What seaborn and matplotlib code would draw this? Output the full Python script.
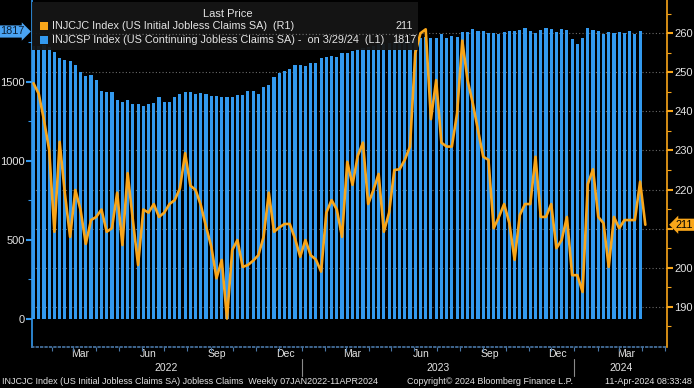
import matplotlib
matplotlib.use('Agg')
import matplotlib.pyplot as plt
import matplotlib.dates as mdates
import matplotlib.transforms as mtransforms
from matplotlib.patches import Rectangle
from matplotlib.lines import Line2D
import pandas as pd
import seaborn as sns

# weekly dates (Bloomberg uses Friday stamps)
cont_dates = pd.date_range('2022-01-07', '2024-03-29', freq='W-FRI')
init_dates = pd.date_range('2022-01-07', '2024-04-05', freq='W-FRI')

# INJCSP - continuing claims (thousands), left axis
continuing = [1725, 1725, 1730, 1720, 1690, 1650, 1635, 1628, 1603, 1561,
              1536, 1544, 1508, 1438, 1434, 1434, 1387, 1374, 1385, 1357,
              1361, 1349, 1357, 1366, 1402, 1370, 1374, 1400, 1423, 1434,
              1434, 1421, 1430, 1423, 1408, 1408, 1400, 1404, 1404, 1417,
              1417, 1442, 1442, 1421, 1466, 1481, 1527, 1557, 1570, 1582,
              1607, 1603, 1599, 1620, 1616, 1650, 1656, 1661, 1656, 1682,
              1682, 1696, 1709, 1713, 1720, 1728, 1735, 1740, 1745, 1750,
              1755, 1760, 1765, 1770, 1775, 1780,
              1779, 1779, 1798, 1776, 1790, 1785, 1815, 1811, 1832, 1819,
              1821, 1806, 1806, 1802, 1811, 1821, 1821, 1828, 1836, 1821,
              1808, 1828, 1836, 1832, 1815, 1832, 1828, 1772, 1741, 1777,
              1840, 1825, 1819, 1802, 1815, 1806, 1815, 1806, 1821, 1802,
              1817]

# INJCJC - initial claims (thousands), right axis
initial = [247.2, 244.5, 237.8, 230.1, 209.2, 232.2, 219.0, 207.9, 219.9, 214.8,
           206.1, 212.2, 213.0, 214.9, 209.2, 210.1, 219.2, 205.8, 224.2, 212.2,
           200.7, 214.9, 214.1, 216.3, 213.0, 214.1, 216.3, 217.3, 220.3, 229.3,
           221.0,
           219.9, 216.0, 210.5, 205.4, 197.3, 202.0, 187.0, 204.5, 207.1, 200.2,
           200.7, 201.8, 203.2, 207.9, 219.2, 209.2, 210.3, 211.2, 211.2, 207.5,
           202.8, 207.1, 203.2, 202.1, 199.0, 214.1, 217.3, 214.9, 207.9,
           227.1, 221.2, 228.6, 232.0, 216.3, 219.9, 224.0, 209.2, 214.1, 225.0,
           225.2, 227.6, 231.0, 254.9, 260.0, 261.0, 238.0, 248.0, 232.0, 231.0,
           231.0, 239.5, 258.1, 248.0, 242.1, 235.2, 228.4, 227.6, 210.1,
           213.0, 216.3, 211.4, 202.0, 213.5, 216.3, 216.3, 228.4, 213.0, 213.0,
           216.3, 205.0, 207.1, 213.0, 198.1, 198.1, 193.8, 221.4, 225.2, 213.0,
           211.4, 200.2, 213.0, 210.1, 212.2, 212.2, 212.2, 222.0, 211.0]

left_ticks = [0, 500, 1000, 1500]
left_minor = [250, 750, 1250, 1750]
right_ticks = [190, 200, 210, 220, 230, 240, 250, 260]
right_tick_labels = ['190', '200', '', '220', '230', '240', '250', '260']  # 210 hidden by last-value tag
right_minor = [185, 195, 205, 215, 225, 235, 245, 255, 265]

month_label_dates = ['2022-03-10', '2022-06-10', '2022-09-10', '2022-12-10',
                     '2023-03-10', '2023-06-10', '2023-09-10', '2023-12-10',
                     '2024-03-10']
month_labels = ['Mar', 'Jun', 'Sep', 'Dec', 'Mar', 'Jun', 'Sep', 'Dec', 'Mar']
year_label_dates = ['2022-07-03', '2023-07-02', '2024-03-03']
year_labels = ['2022', '2023', '2024']
year_breaks = ['2023-01-01', '2024-01-01']

BLUE = '#3399ee'
ORANGE = '#f9a61a'
TXT = '#e4e4e4'
FONT = ['Liberation Sans Narrow', 'Liberation Sans', 'DejaVu Sans']

sns.set_style('dark', rc={'axes.facecolor': 'black', 'figure.facecolor': 'black'})
plt.rcParams['font.family'] = FONT

W, H = 694, 388
fig = plt.figure(figsize=(W / 100, H / 100), dpi=100, facecolor='black')
ax = fig.add_axes([32 / W, (H - 346.7) / H, (667 - 32) / W, 346.7 / H])
ax.set_facecolor('black')
ax2 = ax.twinx()

xc = mdates.date2num(cont_dates)
xi = mdates.date2num(init_dates)

sns.barplot(x=xc, y=continuing, native_scale=True, width=0.6, color=BLUE,
            saturation=1, errorbar=None, ax=ax, zorder=2, linewidth=0)
sns.lineplot(x=xi, y=initial, ax=ax2, color=ORANGE, linewidth=1.9, zorder=3)

ax.set_xlim(mdates.date2num(pd.Timestamp('2022-01-05')),
            mdates.date2num(pd.Timestamp('2024-05-04')))
ax.set_ylim(-175, 2016)
ax2.set_ylim(179.8, 268.5)
ax.grid(False)
ax2.grid(False)
ax.set_xlabel('')
ax.set_ylabel('')
ax2.set_ylabel('')

# dotted grid following the right axis, drawn behind the bars
gtrans = mtransforms.blended_transform_factory(ax.transAxes, ax2.transData)
for v in right_ticks:
    ax.add_line(Line2D([0, 1], [v, v], transform=gtrans, color='#6a6a6a',
                       lw=0.8, dashes=(1, 2), zorder=1))

# spines
ax.spines['top'].set_visible(False)
ax2.spines['top'].set_visible(False)
ax2.spines['left'].set_visible(False)
ax2.spines['bottom'].set_visible(False)
ax.spines['right'].set_visible(False)
ax.spines['left'].set_color(BLUE)
ax.spines['left'].set_linewidth(1.2)
ax2.spines['right'].set_color(ORANGE)
ax2.spines['right'].set_linewidth(1.2)
ax.spines['bottom'].set_color('#4a78a8')
ax.spines['bottom'].set_linestyle(':')
ax.spines['bottom'].set_linewidth(1.2)

# y ticks
ax.set_yticks(left_ticks)
ax.set_yticks(left_minor, minor=True)
ax.tick_params(axis='y', which='major', direction='out', length=4, width=1.5,
               color=BLUE, labelcolor=TXT, labelsize=8, pad=1, left=True)
ax.tick_params(axis='y', which='minor', direction='out', length=3, width=0.8,
               color=BLUE, left=True)
ax2.set_yticks(right_ticks)
ax2.set_yticklabels(right_tick_labels)
ax2.set_yticks(right_minor, minor=True)
ax2.tick_params(axis='y', which='major', direction='out', length=4, width=1.5,
                color=ORANGE, labelcolor=TXT, labelsize=8, pad=1, right=True)
ax2.tick_params(axis='y', which='minor', direction='out', length=3, width=0.8,
                color=ORANGE, right=True)

# x ticks: month boundaries as minor ticks, labels mid-month
month_starts = pd.date_range('2022-02-01', '2024-05-01', freq='MS')
ax.set_xticks(mdates.date2num(month_starts), minor=True)
ax.set_xticks(mdates.date2num(pd.to_datetime(month_label_dates)))
ax.set_xticklabels(month_labels)
ax.tick_params(axis='x', which='major', length=0, labelcolor=TXT, labelsize=7.5, pad=2,
               bottom=True)
ax.tick_params(axis='x', which='minor', direction='out', length=3, width=0.8,
               color='#4a78a8', bottom=True)

ytrans = mtransforms.blended_transform_factory(ax.transData, ax.transAxes)
for d, lab in zip(year_label_dates, year_labels):
    ax.text(mdates.date2num(pd.Timestamp(d)), -0.062, lab, transform=ytrans,
            ha='center', va='center', color=TXT, fontsize=7.5)
for d in year_breaks:
    xb = mdates.date2num(pd.Timestamp(d))
    ax.plot([xb, xb], [-0.036, -0.085], transform=ytrans, color='#8a8a8a',
            lw=0.8, clip_on=False)

# last value markers on both axes
ltrans = mtransforms.blended_transform_factory(ax.transAxes, ax.transData)
ax.text(-0.0118, continuing[-1], str(continuing[-1]), transform=ltrans, ha='right',
        va='center', fontsize=7.8, color='#0b1e33', zorder=10, clip_on=False,
        bbox=dict(boxstyle='rarrow,pad=0.1', fc='#4aa3f2', ec='none'))
rtrans = mtransforms.blended_transform_factory(ax2.transAxes, ax2.transData)
ax2.text(1.0134, initial[-1], '211', transform=rtrans, ha='left', va='center',
         fontsize=7.8, color='black', zorder=10, clip_on=False,
         bbox=dict(boxstyle='larrow,pad=0.1', fc=ORANGE, ec='none'))


def px(x, y):
    return x / W, 1 - y / H


# legend panel
x0, y0 = px(32, 50)
fig.add_artist(Rectangle((x0, y0), (418 - 32) / W, 48 / H, transform=fig.transFigure,
                         facecolor='#161616', alpha=0.95, edgecolor='none', zorder=5))
fig.add_artist(Line2D([52 / W, 418 / W], [1 - 33.5 / H] * 2, transform=fig.transFigure,
                      color='#707070', lw=0.8, dashes=(1, 2), zorder=6))
fig.text(*px(228, 14), 'Last Price', ha='center', va='center', color=TXT,
         fontsize=8, zorder=7)
for yy, col in [(26, ORANGE), (40, BLUE)]:
    sx, sy = px(40, yy + 4)
    fig.add_artist(Rectangle((sx, sy), 8 / W, 8 / H, transform=fig.transFigure,
                             facecolor=col, edgecolor='none', zorder=7))
fig.text(*px(52, 26), 'INJCJC Index (US Initial Jobless Claims SA)  (R1)',
         ha='left', va='center', color=TXT, fontsize=7.8, zorder=7)
fig.text(*px(413, 26), '211', ha='right', va='center', color=TXT, fontsize=7.8, zorder=7)
fig.text(*px(52, 40), 'INJCSP Index (US Continuing Jobless Claims SA) -  on 3/29/24  (L1)',
         ha='left', va='center', color=TXT, fontsize=7.8, zorder=7)
fig.text(*px(417, 40), '1817', ha='right', va='center', color=TXT, fontsize=7.8, zorder=7)

# footer
fig.text(*px(2, 381), 'INJCJC Index (US Initial Jobless Claims SA) Jobless Claims  Weekly 07JAN2022-11APR2024',
         ha='left', va='center', color=TXT, fontsize=6.5)
fig.text(*px(407, 381), 'Copyright© 2024 Bloomberg Finance L.P.', ha='left',
         va='center', color=TXT, fontsize=6.5)
fig.text(*px(692, 381), '11-Apr-2024 08:33:48', ha='right', va='center',
         color=TXT, fontsize=6.5)

fig.savefig('out.png', dpi=100, facecolor='black')
